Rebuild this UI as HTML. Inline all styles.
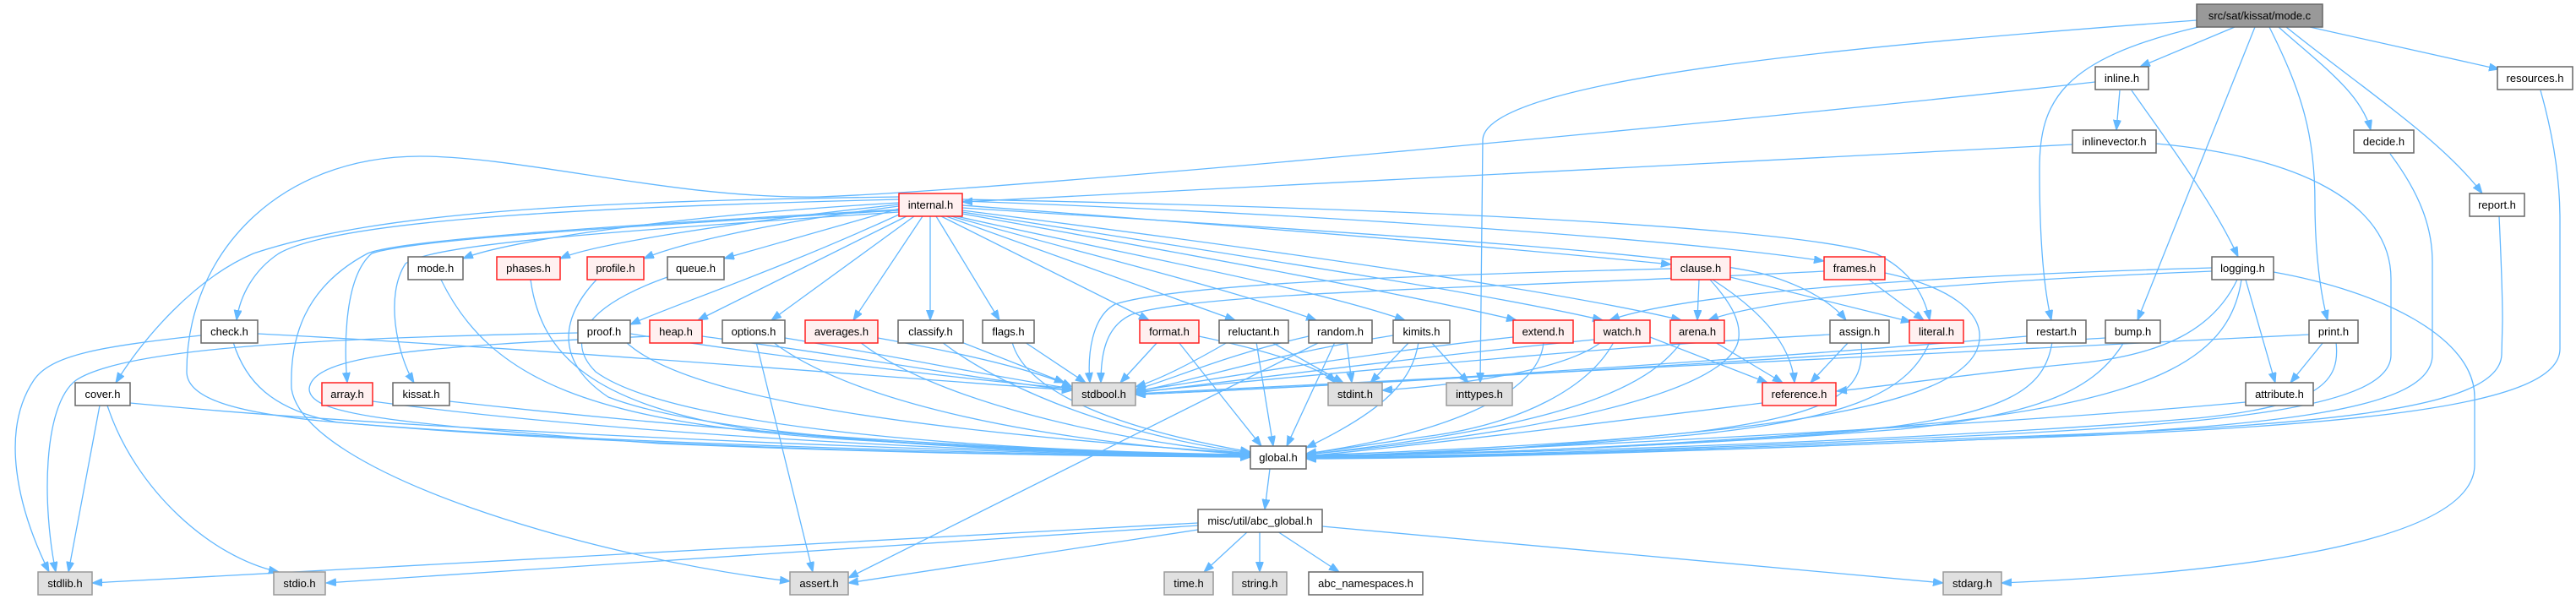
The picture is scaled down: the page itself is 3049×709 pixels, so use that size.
<!DOCTYPE html>
<html><head><meta charset="utf-8"><style>
html,body{margin:0;padding:0;background:#fff;}
svg{display:block;}
.e{fill:none;stroke:#63b8ff;stroke-width:1.3;marker-end:url(#a);}
.n rect{fill:#fff;stroke:#666;stroke-width:1.5;}
.r rect{fill:#fff0f0;stroke:#ff2020;stroke-width:1.5;}
.g rect{fill:#e0e0e0;stroke:#999;stroke-width:1.5;}
.root rect{fill:#999;stroke:#666;stroke-width:1.5;}
text{font-family:"Liberation Sans",Arial,sans-serif;font-size:13px;fill:#000;text-anchor:middle;}
</style></head><body>
<svg width="3049" height="709" viewBox="0 0 3049 709" xmlns="http://www.w3.org/2000/svg">
<defs><marker id="a" markerWidth="13" markerHeight="10" refX="12" refY="4.5" orient="auto" markerUnits="userSpaceOnUse"><path d="M0,0 L12,4.5 L0,9 z" fill="#63b8ff" stroke="#63b8ff" stroke-width="1"/></marker></defs>
<g>
<path class="e" d="M2645,32 L2533,79"/>
<path class="e" d="M2734,32 L2958,82"/>
<path class="e" d="M2697,32 C2745,75 2795,110 2806,154"/>
<path class="e" d="M2706,32 C2790,100 2890,165 2938,229"/>
<path class="e" d="M2686,32 C2725,110 2740,160 2740,240 C2740,300 2747,350 2755,379"/>
<path class="e" d="M2669,32 L2530,379"/>
<path class="e" d="M2602,32 C2440,70 2414,120 2414,200 C2414,300 2421,350 2428,379"/>
<path class="e" d="M2600,24 C2250,50 1760,90 1755,165 L1752,453"/>
<path class="e" d="M2509,107 L2505,154"/>
<path class="e" d="M2523,107 C2560,160 2620,240 2649,304"/>
<path class="e" d="M2480,97 C2100,140 1200,225 970,233 C800,236 620,185 497,185 C330,185 221,300 221,440 C221,472 280,488 378,498 C700,528 1200,540 1480,541"/>
<path class="e" d="M2453,171 L1139,239"/>
<path class="e" d="M2552,170 C2720,185 2830,240 2830,330 L2830,420 C2830,480 2650,500 2350,515 C2000,532 1700,541 1546,541"/>
<path class="e" d="M2829,182 C2865,230 2879,270 2879,310 L2879,420 C2879,485 2700,505 2350,520 C2000,535 1700,542 1546,542"/>
<path class="e" d="M3007,107 C3022,160 3030,210 3030,260 L3030,413 C3030,480 2800,505 2350,520 C2000,535 1700,543 1546,543"/>
<path class="e" d="M2958,256 C2960,300 2962,340 2962,380 L2961,420 C2958,485 2750,505 2350,518 C2000,533 1700,542 1546,542"/>
<path class="e" d="M2618,317 C2300,326 2000,345 1905,379"/>
<path class="e" d="M2618,321 C2350,332 2100,350 2022,379"/>
<path class="e" d="M1895,405 C1850,440 1720,456 1636,462"/>
<path class="e" d="M2648,331 C2620,390 2560,420 2460,430 C2350,440 2250,455 2174,463"/>
<path class="e" d="M2653,331 C2640,420 2560,470 2300,500 C2000,528 1700,540 1546,540"/>
<path class="e" d="M2658,331 L2693,453"/>
<path class="e" d="M2691,322 C2820,345 2929,400 2929,470 L2929,550 C2929,650 2600,680 2369,690"/>
<path class="e" d="M2733,396 C2400,410 1700,450 1344,466"/>
<path class="e" d="M2750,405 L2711,453"/>
<path class="e" d="M2765,405 C2770,450 2750,480 2600,495 C2300,520 1800,538 1546,539"/>
<path class="e" d="M2492,400 C2250,415 1700,452 1344,467"/>
<path class="e" d="M2514,405 C2480,460 2420,490 2250,508 C2000,528 1700,539 1546,539"/>
<path class="e" d="M2399,398 C2200,415 1700,452 1344,467"/>
<path class="e" d="M2429,405 C2420,460 2380,490 2200,510 C2000,528 1700,539 1546,539"/>
<path class="e" d="M2284,405 C2260,460 2200,495 2000,515 C1800,532 1650,540 1546,540"/>
<path class="e" d="M2166,396 C1900,410 1600,440 1344,464"/>
<path class="e" d="M2188,405 L2143,453"/>
<path class="e" d="M2203,405 C2208,460 2180,490 2000,512 C1800,532 1650,540 1546,540"/>
<path class="e" d="M1978,318 C1700,325 1400,335 1320,360 C1292,375 1287,420 1290,453"/>
<path class="e" d="M2159,321 C1800,340 1420,345 1340,372 C1308,386 1303,420 1303,453"/>
<path class="e" d="M2011,331 L2009,379"/>
<path class="e" d="M2048,328 L2262,381"/>
<path class="e" d="M2027,331 C2080,365 2120,405 2124,453"/>
<path class="e" d="M2024,331 C2050,360 2060,380 2058,400 C2052,460 1850,510 1546,538"/>
<path class="e" d="M2212,331 L2277,379"/>
<path class="e" d="M2231,323 C2310,340 2345,370 2343,400 C2340,480 2100,520 1546,539"/>
<path class="e" d="M1139,243 C1500,270 1800,295 1978,313"/>
<path class="e" d="M1139,238 C1600,255 2000,285 2159,309"/>
<path class="e" d="M1139,236 C1600,245 2100,265 2220,300 C2262,320 2278,350 2284,379"/>
<path class="e" d="M1139,246 C1600,275 2000,300 2090,325 C2140,340 2170,360 2185,379"/>
<path class="e" d="M1139,249 C1500,295 1850,345 1990,379"/>
<path class="e" d="M1139,251 C1450,300 1750,345 1897,379"/>
<path class="e" d="M1139,253 C1400,300 1650,345 1795,379"/>
<path class="e" d="M1132,256 C1350,305 1550,340 1663,379"/>
<path class="e" d="M1126,256 C1300,305 1450,340 1558,379"/>
<path class="e" d="M1120,256 L1462,379"/>
<path class="e" d="M1114,256 L1360,379"/>
<path class="e" d="M1108,256 L1183,379"/>
<path class="e" d="M1101,256 L1101,379"/>
<path class="e" d="M1092,256 L1010,379"/>
<path class="e" d="M1082,256 L913,379"/>
<path class="e" d="M1073,256 L826,379"/>
<path class="e" d="M1064,254 C920,320 800,360 746,384"/>
<path class="e" d="M1064,247 L857,306"/>
<path class="e" d="M1064,244 C900,265 800,290 762,306"/>
<path class="e" d="M1064,242 C850,265 700,290 663,306"/>
<path class="e" d="M1064,240 C800,255 600,285 548,306"/>
<path class="e" d="M1064,236 C700,245 400,260 330,300 C300,320 284,350 280,379"/>
<path class="e" d="M1064,233 C700,238 450,250 300,300 C230,330 170,400 137,453"/>
<path class="e" d="M1064,249 C700,270 480,285 440,300 C405,330 408,420 411,453"/>
<path class="e" d="M1064,251 C700,275 510,290 480,312 C455,350 470,420 490,453"/>
<path class="e" d="M1064,248 C700,268 470,285 435,300 C360,340 343,400 345,460 C360,560 700,660 935,688"/>
<path class="e" d="M238,397 C120,410 60,420 40,450 C0,510 20,600 58,677"/>
<path class="e" d="M276,405 C290,450 320,485 400,500 C700,525 1200,538 1480,541"/>
<path class="e" d="M305,395 C600,410 1100,450 1269,462"/>
<path class="e" d="M684,394 C400,400 150,410 90,450 C50,480 50,600 66,677"/>
<path class="e" d="M741,405 C800,460 1000,505 1480,537"/>
<path class="e" d="M746,395 C900,420 1150,450 1269,460"/>
<path class="e" d="M118,480 L81,677"/>
<path class="e" d="M127,480 C160,580 250,660 330,677"/>
<path class="e" d="M154,477 C500,510 1100,535 1480,541"/>
<path class="e" d="M441,475 C700,510 1100,535 1480,540"/>
<path class="e" d="M532,475 C800,505 1100,530 1480,540"/>
<path class="e" d="M522,331 C580,450 700,500 1000,520 C1200,532 1400,538 1480,540"/>
<path class="e" d="M628,331 C640,420 700,480 900,510 C1100,530 1300,538 1480,539"/>
<path class="e" d="M706,331 C660,380 660,430 720,470 C850,520 1200,535 1480,539"/>
<path class="e" d="M790,328 C700,360 665,400 705,440 C800,510 1200,535 1480,538"/>
<path class="e" d="M831,398 C1000,420 1200,455 1269,462"/>
<path class="e" d="M770,398 C500,410 370,420 366,460 C366,490 450,500 780,525 C1100,538 1300,540 1480,540"/>
<path class="e" d="M895,405 L962,677"/>
<path class="e" d="M929,400 C1050,420 1200,450 1269,460"/>
<path class="e" d="M915,405 C1000,470 1200,520 1480,538"/>
<path class="e" d="M1039,400 C1150,420 1230,440 1269,458"/>
<path class="e" d="M1018,405 C1100,470 1300,520 1480,537"/>
<path class="e" d="M1138,405 L1260,453"/>
<path class="e" d="M1115,405 C1200,470 1350,520 1480,536"/>
<path class="e" d="M1213,405 L1285,453"/>
<path class="e" d="M1198,405 C1210,450 1280,500 1480,535"/>
<path class="e" d="M1370,405 L1326,453"/>
<path class="e" d="M1395,405 L1493,528"/>
<path class="e" d="M1419,398 C1500,415 1565,435 1580,453"/>
<path class="e" d="M1453,405 C1410,430 1370,450 1344,458"/>
<path class="e" d="M1487,405 L1507,528"/>
<path class="e" d="M1505,405 L1590,453"/>
<path class="e" d="M1549,398 C1450,420 1380,452 1344,461"/>
<path class="e" d="M1580,405 L1523,528"/>
<path class="e" d="M1594,405 L1600,453"/>
<path class="e" d="M1562,405 L1004,684"/>
<path class="e" d="M1649,397 C1500,420 1400,455 1344,463"/>
<path class="e" d="M1668,405 L1622,453"/>
<path class="e" d="M1679,405 C1672,450 1640,485 1546,530"/>
<path class="e" d="M1694,405 L1738,453"/>
<path class="e" d="M1791,399 C1600,420 1400,455 1344,463"/>
<path class="e" d="M1827,405 C1822,470 1700,515 1546,537"/>
<path class="e" d="M1887,402 C1700,420 1450,452 1344,465"/>
<path class="e" d="M1910,405 C1880,460 1800,500 1700,515 C1620,526 1580,533 1546,537"/>
<path class="e" d="M1953,399 L2092,453"/>
<path class="e" d="M1990,405 C1950,460 1850,505 1546,538"/>
<path class="e" d="M2030,405 L2110,453"/>
<path class="e" d="M2086,477 C1900,500 1700,525 1546,540"/>
<path class="e" d="M2658,476 C2400,500 1900,527 1546,541"/>
<path class="e" d="M1503,555 L1497,603"/>
<path class="e" d="M1418,619 L109,690"/>
<path class="e" d="M1418,622 L386,690"/>
<path class="e" d="M1418,627 L1004,690"/>
<path class="e" d="M1477,629 L1425,677"/>
<path class="e" d="M1491,629 L1491,677"/>
<path class="e" d="M1512,629 L1585,677"/>
<path class="e" d="M1565,623 L2300,690"/>
</g>
<g class="root"><rect x="2600" y="5" width="149" height="27"/><text x="2674.5" y="23">src/sat/kissat/mode.c</text></g>
<g class="n"><rect x="2480" y="79" width="63" height="27"/><text x="2511.5" y="97">inline.h</text></g>
<g class="n"><rect x="2956" y="79" width="89" height="27"/><text x="3000.5" y="97">resources.h</text></g>
<g class="n"><rect x="2453" y="154" width="99" height="27"/><text x="2502.5" y="172">inlinevector.h</text></g>
<g class="n"><rect x="2786" y="154" width="71" height="27"/><text x="2821.5" y="172">decide.h</text></g>
<g class="r"><rect x="1064" y="229" width="75" height="27"/><text x="1101.5" y="247">internal.h</text></g>
<g class="n"><rect x="2923" y="229" width="65" height="27"/><text x="2955.5" y="247">report.h</text></g>
<g class="n"><rect x="483" y="304" width="65" height="27"/><text x="515.5" y="322">mode.h</text></g>
<g class="r"><rect x="588" y="304" width="75" height="27"/><text x="625.5" y="322">phases.h</text></g>
<g class="r"><rect x="695" y="304" width="67" height="27"/><text x="728.5" y="322">profile.h</text></g>
<g class="n"><rect x="790" y="304" width="67" height="27"/><text x="823.5" y="322">queue.h</text></g>
<g class="r"><rect x="1978" y="304" width="70" height="27"/><text x="2013" y="322">clause.h</text></g>
<g class="r"><rect x="2159" y="304" width="72" height="27"/><text x="2195" y="322">frames.h</text></g>
<g class="n"><rect x="2618" y="304" width="73" height="27"/><text x="2654.5" y="322">logging.h</text></g>
<g class="n"><rect x="238" y="379" width="67" height="27"/><text x="271.5" y="397">check.h</text></g>
<g class="n"><rect x="684" y="379" width="62" height="27"/><text x="715" y="397">proof.h</text></g>
<g class="r"><rect x="769" y="379" width="62" height="27"/><text x="800" y="397">heap.h</text></g>
<g class="n"><rect x="855" y="379" width="74" height="27"/><text x="892" y="397">options.h</text></g>
<g class="r"><rect x="953" y="379" width="86" height="27"/><text x="996" y="397">averages.h</text></g>
<g class="n"><rect x="1063" y="379" width="77" height="27"/><text x="1101.5" y="397">classify.h</text></g>
<g class="n"><rect x="1163" y="379" width="61" height="27"/><text x="1193.5" y="397">flags.h</text></g>
<g class="r"><rect x="1349" y="379" width="70" height="27"/><text x="1384" y="397">format.h</text></g>
<g class="n"><rect x="1443" y="379" width="82" height="27"/><text x="1484" y="397">reluctant.h</text></g>
<g class="n"><rect x="1549" y="379" width="75" height="27"/><text x="1586.5" y="397">random.h</text></g>
<g class="n"><rect x="1649" y="379" width="67" height="27"/><text x="1682.5" y="397">kimits.h</text></g>
<g class="r"><rect x="1791" y="379" width="71" height="27"/><text x="1826.5" y="397">extend.h</text></g>
<g class="r"><rect x="1887" y="379" width="66" height="27"/><text x="1920" y="397">watch.h</text></g>
<g class="r"><rect x="1977" y="379" width="64" height="27"/><text x="2009" y="397">arena.h</text></g>
<g class="n"><rect x="2166" y="379" width="70" height="27"/><text x="2201" y="397">assign.h</text></g>
<g class="r"><rect x="2260" y="379" width="64" height="27"/><text x="2292" y="397">literal.h</text></g>
<g class="n"><rect x="2399" y="379" width="70" height="27"/><text x="2434" y="397">restart.h</text></g>
<g class="n"><rect x="2492" y="379" width="65" height="27"/><text x="2524.5" y="397">bump.h</text></g>
<g class="n"><rect x="2733" y="379" width="58" height="27"/><text x="2762" y="397">print.h</text></g>
<g class="n"><rect x="89" y="453" width="65" height="27"/><text x="121.5" y="471">cover.h</text></g>
<g class="r"><rect x="381" y="453" width="60" height="27"/><text x="411" y="471">array.h</text></g>
<g class="n"><rect x="465" y="453" width="67" height="27"/><text x="498.5" y="471">kissat.h</text></g>
<g class="g"><rect x="1269" y="453" width="75" height="27"/><text x="1306.5" y="471">stdbool.h</text></g>
<g class="g"><rect x="1572" y="453" width="64" height="27"/><text x="1604" y="471">stdint.h</text></g>
<g class="g"><rect x="1712" y="453" width="78" height="27"/><text x="1751" y="471">inttypes.h</text></g>
<g class="r"><rect x="2086" y="453" width="87" height="27"/><text x="2129.5" y="471">reference.h</text></g>
<g class="n"><rect x="2658" y="453" width="80" height="27"/><text x="2698" y="471">attribute.h</text></g>
<g class="n"><rect x="1480" y="528" width="66" height="27"/><text x="1513" y="546">global.h</text></g>
<g class="n"><rect x="1418" y="603" width="147" height="27"/><text x="1491.5" y="621">misc/util/abc_global.h</text></g>
<g class="g"><rect x="45" y="677" width="64" height="27"/><text x="77" y="695">stdlib.h</text></g>
<g class="g"><rect x="324" y="677" width="61" height="27"/><text x="354.5" y="695">stdio.h</text></g>
<g class="g"><rect x="935" y="677" width="69" height="27"/><text x="969.5" y="695">assert.h</text></g>
<g class="g"><rect x="1378" y="677" width="58" height="27"/><text x="1407" y="695">time.h</text></g>
<g class="g"><rect x="1459" y="677" width="64" height="27"/><text x="1491" y="695">string.h</text></g>
<g class="n"><rect x="1549" y="677" width="135" height="27"/><text x="1616.5" y="695">abc_namespaces.h</text></g>
<g class="g"><rect x="2300" y="677" width="69" height="27"/><text x="2334.5" y="695">stdarg.h</text></g>
</svg>
</body></html>
